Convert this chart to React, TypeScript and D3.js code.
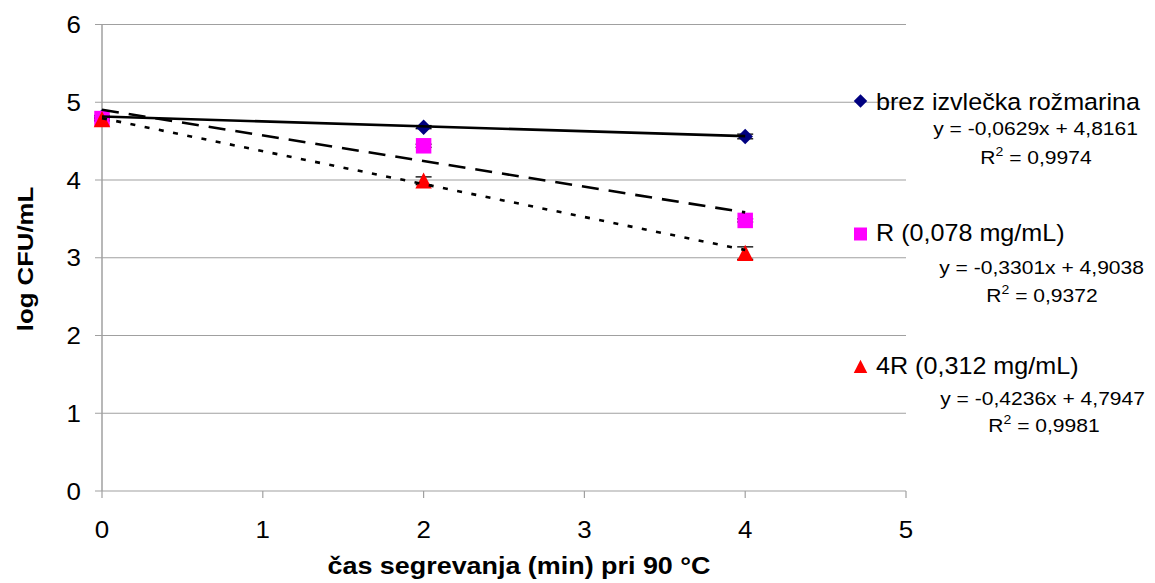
import React from "react";
import * as d3 from "d3";

const times = [0, 2, 4];
const xTicks = [0, 1, 2, 3, 4, 5];
const yTicks = [0, 1, 2, 3, 4, 5, 6];

const seriesNames = ["brez izvlečka rožmarina", "R (0,078 mg/mL)", "4R (0,312 mg/mL)"];
const brezValues = [4.81, 4.68, 4.56];
const rValues = [4.79, 4.44, 3.48];
const r4Values = [4.78, 3.99, 3.06];
const brezErr = [0.02, 0.02, 0.03];
const rErr = [0.02, 0.02, 0.02];
const r4Err = [0.02, 0.05, 0.08];

const slopes = [-0.0629, -0.3301, -0.4236];
const intercepts = [4.8161, 4.9038, 4.7947];
const equationLabels = ["y = -0,0629x + 4,8161", "y = -0,3301x + 4,9038", "y = -0,4236x + 4,7947"];
const r2Labels = ["0,9974", "0,9372", "0,9981"];

const W = 1155;
const H = 583;
const FONT = "'Liberation Sans', Arial, sans-serif";

const x = d3.scaleLinear().domain([0, 5]).range([102, 906]);
const y = d3.scaleLinear().domain([0, 6]).range([491, 24.5]);

const styles = [
  { color: "#000080", marker: "diamond", dash: "none" },
  { color: "#ff00ff", marker: "square", dash: "17,10" },
  { color: "#ff0000", marker: "triangle", dash: "5,9.5" },
];

const series = [
  { values: brezValues, err: brezErr },
  { values: rValues, err: rErr },
  { values: r4Values, err: r4Err },
];

const markerPath = (kind: string, size: number) => {
  const s = size / 2;
  if (kind === "diamond") return `M0,${-s}L${s},0L0,${s}L${-s},0Z`;
  if (kind === "square") return `M${-s},${-s}H${s}V${s}H${-s}Z`;
  return `M0,${-s}L${s},${s * 0.95}L${-s},${s * 0.95}Z`;
};

// glyphs in the source are somewhat wider than Arial, hence the sx stretch
const T = ({ x, y, size, sx = 1.12, anchor = "start", weight = "normal", rotate = 0, children }: any) => (
  <text
    transform={`translate(${x},${y}) rotate(${rotate}) scale(${sx},1)`}
    fontSize={size}
    fontFamily={FONT}
    fontWeight={weight}
    textAnchor={anchor}
    fill="#000"
  >
    {children}
  </text>
);

const legendY = [101, 234, 366.5];
const legendTextY = [109.5, 240.5, 373.5];
const eqRight = [1138, 1144, 1145];
const eqY = [135, 273.5, 405];
const r2Center = [1036, 1042, 1044];
const r2Y = [163.5, 301.5, 431.5];

export default function App() {
  return (
    <div style={{ position: "absolute", left: 0, top: 0 }}>
      <svg width={W} height={H} style={{ display: "block", background: "#fff" }}>
        {/* grid + axes */}
        {yTicks.map((t) => (
          <g key={"gy" + t}>
            <line x1={x(0) - 7} x2={x(5)} y1={y(t)} y2={y(t)} stroke="#a0a0a0" strokeWidth={1.2} />
            <T x={81} y={y(t) + 8.5} size={24} sx={1.08} anchor="end">
              {t}
            </T>
          </g>
        ))}
        <line x1={x(0)} x2={x(0)} y1={y(6)} y2={y(0)} stroke="#a0a0a0" strokeWidth={1.5} />
        {xTicks.map((t) => (
          <g key={"gx" + t}>
            <line x1={x(t)} x2={x(t)} y1={y(0)} y2={y(0) + 7} stroke="#a0a0a0" strokeWidth={1.2} />
            <T x={x(t)} y={538} size={24} sx={1.08} anchor="middle">
              {t}
            </T>
          </g>
        ))}

        {/* error bars */}
        {series.map((s, si) =>
          s.values.map((v, i) => (
            <g key={`e${si}-${i}`} stroke="#000" strokeWidth={1.3}>
              <line x1={x(times[i])} x2={x(times[i])} y1={y(v - s.err[i])} y2={y(v + s.err[i])} />
              <line x1={x(times[i]) - 8} x2={x(times[i]) + 8} y1={y(v + s.err[i])} y2={y(v + s.err[i])} />
              <line x1={x(times[i]) - 8} x2={x(times[i]) + 8} y1={y(v - s.err[i])} y2={y(v - s.err[i])} />
            </g>
          ))
        )}

        {/* markers */}
        {series.map((s, si) =>
          s.values.map((v, i) => (
            <path
              key={`m${si}-${i}`}
              d={markerPath(styles[si].marker, styles[si].marker === "triangle" ? 16.5 : 15.5)}
              transform={`translate(${x(times[i])},${y(v)})`}
              fill={styles[si].color}
            />
          ))
        )}

        {/* trendlines */}
        {slopes.map((m, si) => {
          const line = d3
            .line<number>()
            .x((t) => x(t))
            .y((t) => y(m * t + intercepts[si]));
          return (
            <path
              key={"tr" + si}
              d={line([times[0], times[times.length - 1]]) || ""}
              fill="none"
              stroke="#000"
              strokeWidth={2.6}
              strokeDasharray={styles[si].dash}
            />
          );
        })}

        {/* legend */}
        {seriesNames.map((name, si) => (
          <g key={"lg" + si}>
            <path
              d={markerPath(styles[si].marker, styles[si].marker === "square" ? 13 : 13.5)}
              transform={`translate(860.5,${legendY[si]})`}
              fill={styles[si].color}
            />
            <T x={876} y={legendTextY[si]} size={23.5} sx={1.07}>
              {name}
            </T>
            <T x={eqRight[si]} y={eqY[si]} size={18} sx={1.17} anchor="end">
              {equationLabels[si]}
            </T>
            <T x={r2Center[si]} y={r2Y[si]} size={18} sx={1.17} anchor="middle">
              R<tspan fontSize={12} dy={-8}>2</tspan>
              <tspan dy={8}> = {r2Labels[si]}</tspan>
            </T>
          </g>
        ))}

        {/* axis titles */}
        <T x={519} y={574} size={23} sx={1.17} weight="bold" anchor="middle">
          čas segrevanja (min) pri 90 °C
        </T>
        <T x={33} y={259} size={23} sx={1.12} weight="bold" anchor="middle" rotate={-90}>
          log CFU/mL
        </T>
      </svg>
    </div>
  );
}
